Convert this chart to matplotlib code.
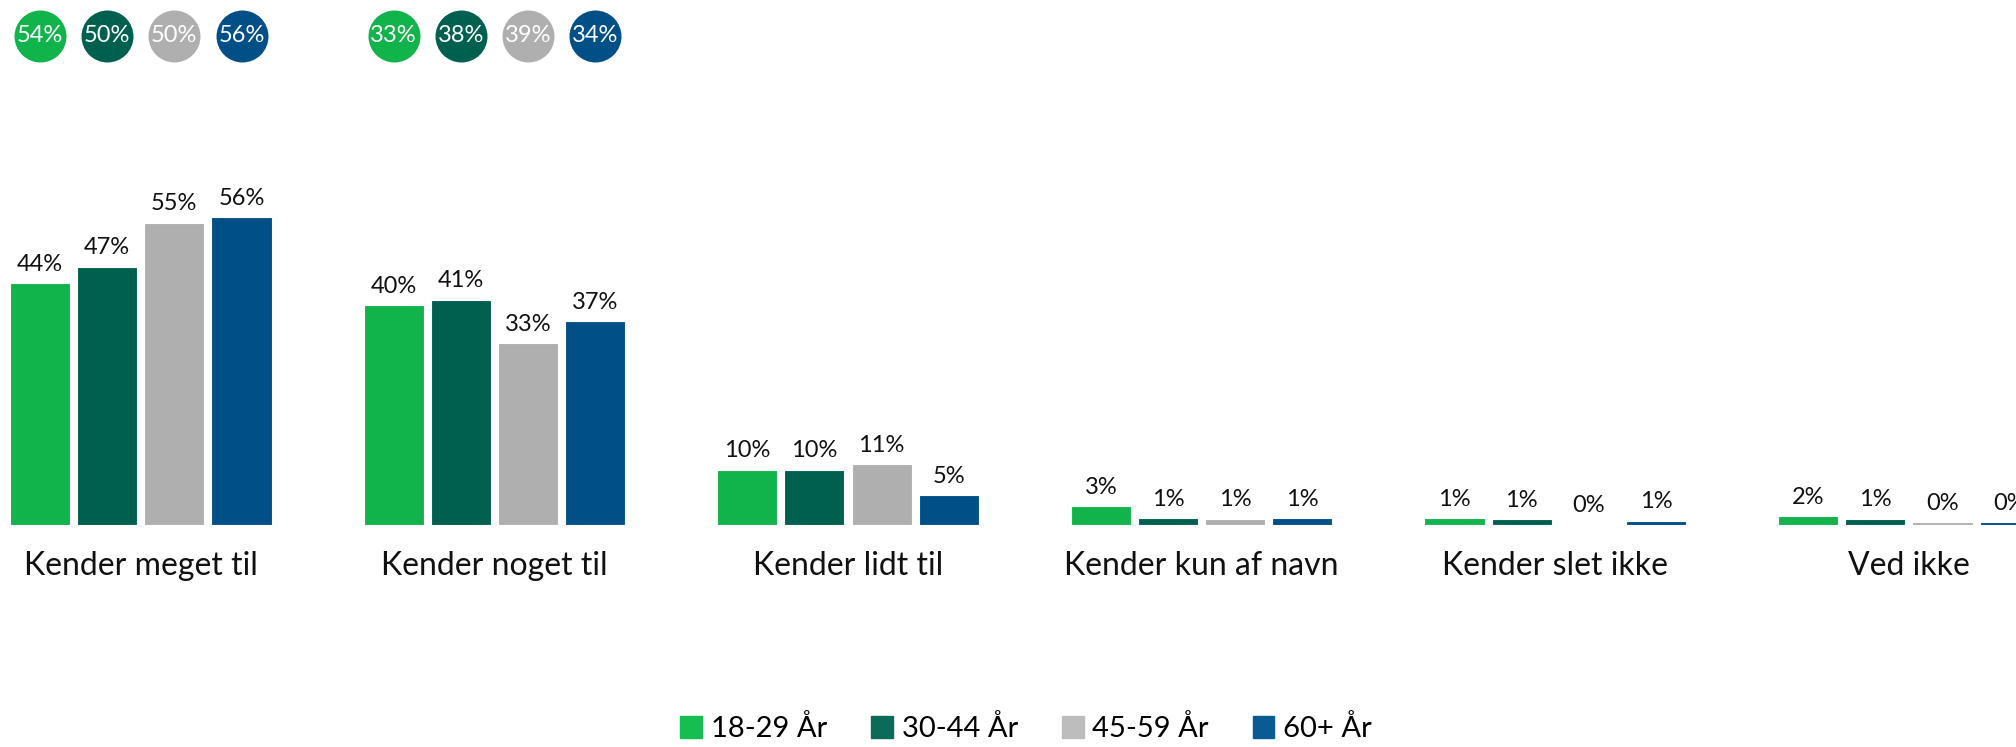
import matplotlib.pyplot as plt
import numpy as np

# Data
categories = ['Kender meget til', 'Kender noget til', 'Kender lidt til',
              'Kender kun af navn', 'Kender slet ikke', 'Ved ikke']
age_groups = ['18-29 År', '30-44 År', '45-59 År', '60+ År']
colors = ['#10B44A', '#00604F', '#AFAFAF', '#004F87']
legend_colors = ['#16BE52', '#0B6A58', '#BDBDBD', '#0A5A94']

v_18_29 = [44, 40, 10, 3.4, 1.2, 1.6]
v_30_44 = [47, 41, 10, 1.2, 1.0, 1.1]
v_45_59 = [55, 33, 11, 1.1, 0.0, 0.4]
v_60_plus = [56, 37, 5.4, 1.2, 0.7, 0.4]
series = [v_18_29, v_30_44, v_45_59, v_60_plus]

# bubble values shown above the first two groups
bubble_meget = [54, 50, 50, 56]
bubble_noget = [33, 38, 39, 34]
bubbles = {0: bubble_meget, 1: bubble_noget}

plt.rcParams['font.family'] = ['Lato', 'DejaVu Sans']

fig = plt.figure(figsize=(20.16, 7.47), dpi=100)
ax = fig.add_axes([0, 0, 1, 1])

x = np.arange(len(categories))
pitch = 0.19
width = 0.17
offsets = (np.arange(4) - 1.5) * pitch

for i, vals in enumerate(series):
    xs = x + offsets[i]
    ax.bar(xs, vals, width=width, color=colors[i], edgecolor='white', linewidth=0.8)
    for xi, v in zip(xs, vals):
        ax.annotate(f"{round(v)}%", (xi, v), xytext=(0, 6), textcoords='offset points',
                    ha='center', va='bottom', fontsize=17, color='#111111')

# category labels
for xi, c in zip(x, categories):
    ax.text(xi, -7.5, c, ha='center', va='center', fontsize=23, color='#111111')

# bubbles at the top
for gi, vals in bubbles.items():
    for i, v in enumerate(vals):
        bx = gi + offsets[i]
        ax.scatter(bx, 89, s=1400, color=colors[i], zorder=3, linewidths=0)
        ax.text(bx, 89, f"{v}%", ha='center', va='center', fontsize=17,
                color='white', zorder=4)

ax.set_xlim(-0.398, 5.303)
ax.set_ylim(-40.5, 95.55)
ax.axis('off')

handles = [plt.Rectangle((0, 0), 1, 1, color=c) for c in legend_colors]
fig.legend(handles, age_groups, loc='center', bbox_to_anchor=(0.509, 0.025),
           ncol=4, frameon=False, fontsize=21, handlelength=0.75, handleheight=0.8,
           handletextpad=0.3, columnspacing=1.5)

fig.savefig('out.png', dpi=100)
